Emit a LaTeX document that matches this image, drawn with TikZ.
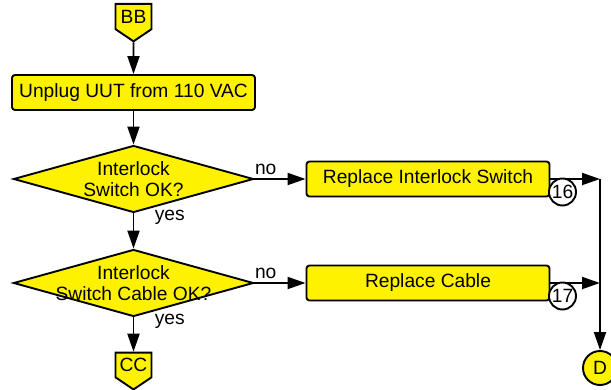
\documentclass[tikz,border=0pt]{standalone}
\usepackage{fontspec}
\setmainfont{Liberation Sans}
\usetikzlibrary{shapes,arrows.meta}
\tikzstyle{block} = [draw, rectangle, rounded corners=3pt, fill=yellow, minimum height=35pt, minimum width=243pt, inner sep=0pt]
\tikzstyle{decision} = [draw, diamond, fill=yellow, minimum width=240pt, minimum height=67pt, inner sep=0pt]
\tikzstyle{offpage} = [draw, signal, signal to=south, signal pointer angle=112, fill=yellow, minimum width=36pt, minimum height=34pt, inner sep=0pt]
\tikzstyle{num} = [draw, circle, fill=white, minimum size=27pt, inner sep=0pt]
\tikzstyle{conn} = [draw, circle, fill=yellow, minimum size=34pt, inner sep=0pt]
\tikzstyle{joint} = [coordinate]

\begin{document}
\begin{tikzpicture}[auto, >={Triangle[length=18pt,width=12pt]}, line width=1.9pt, font=\fontsize{19.2}{21}\selectfont]
    \useasboundingbox (0,0) rectangle (611pt,-390pt);
    \node [offpage] (bb) at (133.5pt,-16.5pt) {BB};
    \node [block, below of=bb, node distance=76pt] (unplug) {Unplug UUT from 110 VAC};
    \draw [->] (bb) -- (unplug);

    \node [decision, below of=unplug, node distance=86.5pt, label={[align=center]center:Interlock\\Switch OK?}] (switch) {};
    \draw [->] (unplug) -- (switch);
    \node [block, right of=switch, node distance=294.5pt] (repswitch) {Replace Interlock Switch};
    \draw [->] (switch) -- node[pos=0.22, above] {no} (repswitch);

    \node [decision, below of=switch, node distance=104pt, label={[align=center]center:Interlock\\Switch Cable OK?}] (cable) {};
    \draw [->] (switch) -- node[pos=0.12, right, xshift=17pt] {yes} (cable);
    \node [block, right of=cable, node distance=294.5pt] (repcable) {Replace Cable};
    \draw [->] (cable) -- node[pos=0.22, above] {no} (repcable);

    \node [offpage, below of=cable, node distance=82pt] (cc) {CC};
    \draw [->] (cable) -- node[pos=0.12, right, xshift=17pt] {yes} (cc);

    \node [joint, right of=repswitch, node distance=172pt] (join1) {};
    \node [joint, right of=repcable, node distance=172pt] (join2) {};
    \draw [->] (repswitch) -- (join1);
    \draw [->] (repcable) -- (join2);
    \node [conn, below of=join2, node distance=85pt] (d) {D};
    \draw [->] (join1) -- (d);

    \node [num, right of=repswitch, node distance=134.5pt, yshift=-13pt] (n16) {16};
    \node [num, right of=repcable, node distance=134.5pt, yshift=-13pt] (n17) {17};
\end{tikzpicture}
\end{document}
